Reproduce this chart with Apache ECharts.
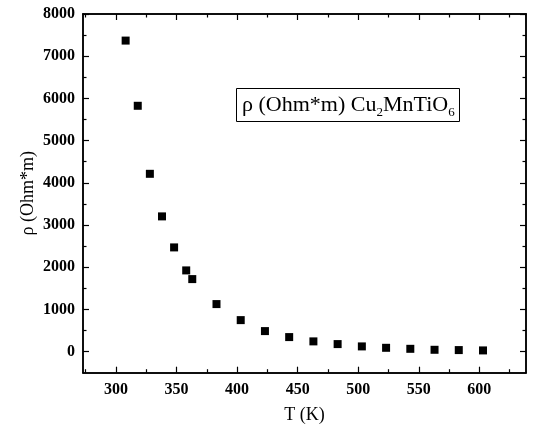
<!DOCTYPE html>
<html><head><meta charset="utf-8">
<script src="https://cdn.jsdelivr.net/npm/echarts@6/dist/echarts.min.js"></script>
<style>html,body{margin:0;padding:0;background:#fff}#c{width:536px;height:438px}</style>
</head><body><div id="c"></div>
<script>
const temperatures = [308, 318, 328, 338, 348, 358, 363, 383, 403, 423, 443, 463, 483, 503, 523, 543, 563, 583, 603];
const resistivity = [7370, 5825, 4213, 3204, 2469, 1924, 1718, 1126, 746, 486, 344, 242, 178, 123, 90, 66, 43, 36, 28];
const xMajorTicks = [300, 350, 400, 450, 500, 550, 600];
const xMinorTicks = [275, 325, 375, 425, 475, 525, 575, 625];
const yMajorTicks = [0, 1000, 2000, 3000, 4000, 5000, 6000, 7000, 8000];
const yMinorTicks = [500, 1500, 2500, 3500, 4500, 5500, 6500, 7500];

const serif = 'Liberation Serif';
const xMin = 272.8, xMax = 638.5, yMin = -500, yMax = 8000;
const plain = v => String(v);

function xAx(pos, ticks, len, labels, isMain) {
  return {
    type: 'value', position: pos, min: xMin, max: xMax,
    name: isMain ? 'T (K)' : '', nameLocation: 'middle', nameGap: 34,
    nameTextStyle: {fontFamily: serif, fontSize: 18, color: '#000'},
    axisLine: {show: true, onZero: false, lineStyle: {color: '#000', width: 1.5}},
    axisTick: {show: true, inside: true, length: len, customValues: ticks, lineStyle: {color: '#000', width: 1.2}},
    axisLabel: labels ? {show: true, customValues: ticks, formatter: plain, margin: 9, fontFamily: serif, fontWeight: 'bold', fontSize: 16, color: '#000'} : {show: false},
    splitLine: {show: false}, minorTick: {show: false}
  };
}
function yAx(pos, ticks, len, labels, isMain) {
  return {
    type: 'value', position: pos, min: yMin, max: yMax,
    name: isMain ? 'ρ (Ohm*m)' : '', nameLocation: 'middle', nameGap: 46, nameRotate: 90,
    nameMoveOverlap: false,
    nameTextStyle: {fontFamily: serif, fontSize: 18, color: '#000'},
    axisLine: {show: true, onZero: false, lineStyle: {color: '#000', width: 1.5}},
    axisTick: {show: true, inside: true, length: len, customValues: ticks, lineStyle: {color: '#000', width: 1.2}},
    axisLabel: labels ? {show: true, customValues: ticks, formatter: plain, margin: 8, fontFamily: serif, fontWeight: 'bold', fontSize: 16, color: '#000'} : {show: false},
    splitLine: {show: false}, minorTick: {show: false}
  };
}

const chart = echarts.init(document.getElementById('c'), null, {renderer: 'canvas'});
chart.setOption({
  animation: false,
  backgroundColor: '#fff',
  title: {
    text: '{a|ρ (Ohm*m) Cu}{s|2}{a|MnTiO}{s|6}',
    left: 236, top: 86,
    borderColor: '#000', borderWidth: 1,
    padding: [6, 5, 3, 6],
    textStyle: {
      fontWeight: 'normal',
      rich: {
        a: {fontFamily: serif, fontSize: 22, fontWeight: 'normal', color: '#000'},
        s: {fontFamily: serif, fontSize: 13, fontWeight: 'normal', color: '#000', padding: [14, 0, 0, 0]}
      }
    }
  },
  grid: {left: 83, top: 14, right: 10, bottom: 65.3, containLabel: false},
  xAxis: [
    xAx('bottom', xMajorTicks, 6, true, true),
    xAx('bottom', xMinorTicks, 3.5, false, false),
    xAx('top', xMajorTicks, 6, false, false),
    xAx('top', xMinorTicks, 3.5, false, false)
  ],
  yAxis: [
    yAx('left', yMajorTicks, 6, true, true),
    yAx('left', yMinorTicks, 3.5, false, false),
    yAx('right', yMajorTicks, 6, false, false),
    yAx('right', yMinorTicks, 3.5, false, false)
  ],
  series: [{
    type: 'scatter',
    xAxisIndex: 0, yAxisIndex: 0,
    symbol: 'rect', symbolSize: 8,
    itemStyle: {color: '#000', opacity: 1},
    data: temperatures.map((t, i) => [t, resistivity[i]])
  }]
});
</script>
</body></html>
